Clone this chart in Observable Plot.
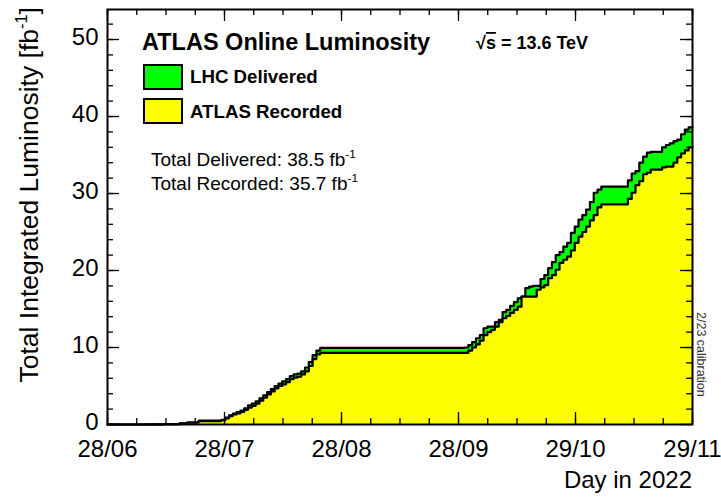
<!DOCTYPE html>
<html><head><meta charset="utf-8">
<script src="https://cdn.jsdelivr.net/npm/d3@7"></script>
<script src="https://cdn.jsdelivr.net/npm/@observablehq/plot@0.6"></script>
<style>body{margin:0;background:#fff} svg{display:block}</style>
</head><body><div id="chart"></div>
<script>
// ---- data ----
const startDate = "2022-06-28";
const axisDays = 154;                       // 28/06 -> 29/11
const xTickLabels = ["28/06", "28/07", "28/08", "28/09", "29/10", "29/11"];
const yTickLabels = [0, 10, 20, 30, 40, 50];
const yMax = 53.9;
// day index (since 28/06) at which a new cumulative value starts
const days = [0,10,15,19,21,24,30,31,32,33,34,35,36,37,38,39,40,41,42,43,44,45,46,47,48,49,50,51,52,53,54,55,56,
  94,95,96,97,98,99,100,101,102,103,104,105,106,107,108,109,110,111,112,113,114,115,116,117,118,119,120,121,122,123,124,125,126,127,128,129,130,
  137,138,139,140,141,142,143,146,147,148,149,150,151,152,153];
const delivered = [0,0.02,0.05,0.15,0.25,0.5,0.6,0.9,1.2,1.4,1.6,1.8,2.1,2.5,2.7,3.0,3.4,3.8,4.2,4.6,5.0,5.3,5.6,5.9,6.3,6.5,6.6,6.9,7.4,8.1,9.0,9.6,9.95,
  10.0,10.3,10.7,11.2,11.6,12.5,12.7,12.7,13.3,13.6,14.6,14.9,15.4,15.9,16.4,16.6,17.7,17.9,18.0,18.0,18.9,19.4,20.3,21.1,22.0,22.4,23.1,23.6,24.9,25.7,26.6,27.2,27.9,28.9,30.1,30.5,30.9,
  31.7,32.6,32.9,34.0,34.8,35.3,35.4,36.0,36.3,36.5,36.8,37.0,37.7,38.3,38.6];
const recorded = [0,0.02,0.05,0.15,0.25,0.45,0.55,0.8,1.1,1.3,1.45,1.65,1.9,2.2,2.4,2.7,3.1,3.5,3.9,4.3,4.7,5.0,5.2,5.5,5.9,6.1,6.2,6.5,6.9,7.6,8.5,9.1,9.3,
  9.3,9.6,10.0,10.4,10.9,11.6,12.0,12.3,12.7,13.3,13.8,14.1,14.5,14.9,15.3,16.6,16.6,16.6,16.6,17.5,17.8,18.1,19.0,19.4,20.1,21.0,21.4,21.8,22.6,23.6,24.4,25.0,25.7,26.5,27.2,28.2,28.6,
  29.3,30.1,31.1,31.6,32.5,32.7,33.1,33.4,33.5,33.5,34.0,34.7,35.2,35.6,36.0];

// ---- table for Plot ----
const rows = days.map((d, i) => ({day: d, delivered: delivered[i], recorded: recorded[i]}));
rows.push({day: axisDays, delivered: delivered[delivered.length - 1], recorded: recorded[recorded.length - 1]});

const W = 721, H = 498, mL = 107, mR = 29, mT = 9, mB = 74;
const innerW = W - mL - mR, innerH = H - mT - mB;
const nDiv = xTickLabels.length - 1;
const xMajor = d3.range(nDiv + 1).map(k => k * axisDays / nDiv);
const xMinor = d3.range(4 * nDiv + 1).map(k => k * axisDays / (4 * nDiv));
const yMinor = d3.range(0, yMax, 2);
const font = "'Liberation Sans', Arial, Helvetica, sans-serif";

const chart = Plot.plot({
  width: W, height: H,
  marginLeft: mL, marginRight: mR, marginTop: mT, marginBottom: mB,
  style: {fontFamily: font, background: "#fff", color: "#000"},
  x: {type: "linear", domain: [0, axisDays], label: null},
  y: {domain: [0, yMax], label: null},
  marks: [
    Plot.areaY(rows, {x: "day", y: "delivered", curve: "step-after", fill: "#00ff00"}),
    Plot.lineY(rows, {x: "day", y: "delivered", curve: "step-after", stroke: "#000", strokeWidth: 2.2}),
    Plot.areaY(rows, {x: "day", y: "recorded", curve: "step-after", fill: "#ffff00"}),
    Plot.lineY(rows, {x: "day", y: "recorded", curve: "step-after", stroke: "#000", strokeWidth: 2.2}),
    // inward ticks (ROOT style) on all four sides
    Plot.tickX(xMinor, {x: d => d, insetTop: innerH - 6, stroke: "#000", strokeWidth: 1.3}),
    Plot.tickX(xMajor, {x: d => d, insetTop: innerH - 12, stroke: "#000", strokeWidth: 1.3}),
    Plot.tickX(xMinor, {x: d => d, insetBottom: innerH - 6, stroke: "#000", strokeWidth: 1.3}),
    Plot.tickX(xMajor, {x: d => d, insetBottom: innerH - 12, stroke: "#000", strokeWidth: 1.3}),
    Plot.tickY(yMinor, {y: d => d, insetRight: innerW - 6, stroke: "#000", strokeWidth: 1.3}),
    Plot.tickY(yTickLabels, {y: d => d, insetRight: innerW - 12, stroke: "#000", strokeWidth: 1.3}),
    Plot.tickY(yMinor, {y: d => d, insetLeft: innerW - 6, stroke: "#000", strokeWidth: 1.3}),
    Plot.tickY(yTickLabels, {y: d => d, insetLeft: innerW - 12, stroke: "#000", strokeWidth: 1.3}),
    Plot.frame({stroke: "#000", strokeWidth: 2}),
    Plot.axisX(xMajor, {anchor: "bottom", label: null, tickSize: 0, tickPadding: 15, fontSize: 24, fill: "#000",
      tickFormat: d => xTickLabels[Math.round(d / (axisDays / nDiv))]}),
    Plot.axisY(yTickLabels, {anchor: "left", label: null, tickSize: 0, tickPadding: 9, fontSize: 24, fill: "#000", dy: -2,
      tickFormat: d => String(d)})
  ]
});
document.getElementById("chart").appendChild(chart);

// ---- annotations ----
const svg = d3.select(chart);
function rich(x, y, parts, {size, weight = "normal", anchor = "start", rotate = 0, fill = "#000"}) {
  const t = svg.append("text")
    .attr("transform", `translate(${x},${y}) rotate(${rotate})`)
    .attr("font-family", font).attr("font-size", size).attr("font-weight", weight)
    .attr("text-anchor", anchor).attr("fill", fill);
  let shift = 0;
  parts.forEach(p => {
    const s = t.append("tspan").text(p.t);
    if (p.sup) { s.attr("font-size", size * 0.62).attr("dy", -size * 0.42); shift = size * 0.42; }
    else if (shift) { s.attr("dy", shift); shift = 0; }
    if (p.over) s.style("text-decoration", "overline");
  });
  return t;
}
rich(38, 7, [{t: "Total Integrated Luminosity [fb"}, {t: "-1", sup: true}, {t: "]"}], {size: 26.5, anchor: "end", rotate: -90});
rich(692, 488, [{t: "Day in 2022"}], {size: 24, anchor: "end"});
rich(142, 50, [{t: "ATLAS Online Luminosity"}], {size: 23.5, weight: "bold"});
rich(476, 49, [{t: "\u221A"}, {t: "s", over: true}, {t: " = 13.6 TeV"}], {size: 18, weight: "bold"});
svg.append("rect").attr("x", 144).attr("y", 65).attr("width", 38).attr("height", 24)
  .attr("fill", "#00ff00").attr("stroke", "#000").attr("stroke-width", 2);
svg.append("rect").attr("x", 144).attr("y", 99).attr("width", 38).attr("height", 24)
  .attr("fill", "#ffff00").attr("stroke", "#000").attr("stroke-width", 2);
rich(190, 83, [{t: "LHC Delivered"}], {size: 18.7, weight: "bold"});
rich(190, 118, [{t: "ATLAS Recorded"}], {size: 18.7, weight: "bold"});
rich(151, 166, [{t: "Total Delivered: 38.5 fb"}, {t: "-1", sup: true}], {size: 19});
rich(151, 190, [{t: "Total Recorded: 35.7 fb"}, {t: "-1", sup: true}], {size: 19});
rich(697, 312, [{t: "2/23 calibration"}], {size: 12.5, rotate: 90, fill: "#333"});
</script>
</body></html>
